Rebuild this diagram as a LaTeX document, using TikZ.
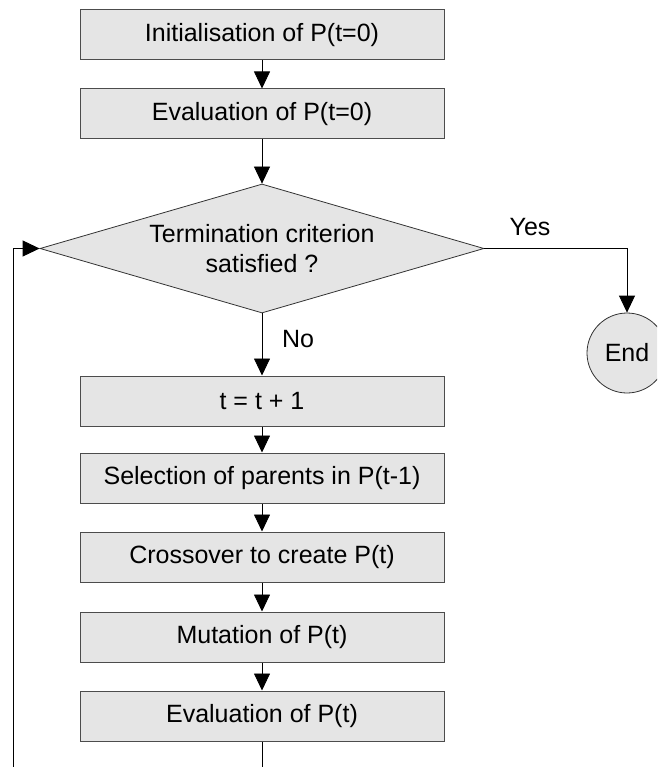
\documentclass[tikz,border=0pt]{standalone}
\usepackage{fontspec}
\setmainfont{Liberation Sans}
\usetikzlibrary{arrows.meta,shapes.geometric}
\tikzset{
  stepbox/.style={draw=black!70, line width=1pt, fill=black!10, rectangle,
    minimum width=364pt, minimum height=50pt, inner sep=0pt},
  decision/.style={draw=black!80, line width=0.8pt, fill=black!10, diamond,
    minimum width=444pt, minimum height=129pt, inner sep=0pt},
  stopnode/.style={draw=black!80, line width=0.8pt, fill=black!10, circle,
    minimum size=80pt, inner sep=0pt},
  txt/.style={inner sep=0pt, align=center},
  flow/.style={draw=black, line width=0.8pt,
    -{Triangle[length=17pt,width=16pt]}},
  plain/.style={draw=black, line width=0.8pt}
}
\begin{document}
\begin{tikzpicture}[x=1pt,y=-1pt,
  every node/.style={font=\fontsize{25}{30}\selectfont}]
  \clip (0,0) rectangle (657,767);
  \fill[white] (0,0) rectangle (657,767);

  % process steps
  \node[stepbox] (init) at (262,35) {Initialisation of P(t=0)};
  \node[stepbox] (eval0) at (262,114) {Evaluation of P(t=0)};
  \node[decision] (dia) at (262,248.5) {};
  \node[txt] (diatext) at (262,249) {Termination criterion\\satisfied ?};
  \node[stopnode] (end) at (627,353) {End};
  \node[stepbox] (inc) at (262,401) {t = t + 1};
  \node[stepbox] (sel) at (262,478) {Selection of parents in P(t-1)};
  \node[stepbox] (cross) at (262,557) {Crossover to create P(t)};
  \node[stepbox] (mut) at (262,637) {Mutation of P(t)};
  \node[stepbox] (evalt) at (262,716) {Evaluation of P(t)};

  % connectors
  \draw[flow] (init.south) -- (eval0.north);
  \draw[flow] (eval0.south) -- (dia.north);
  \draw[flow] (dia.east) -| (end.north);
  \draw[flow] (dia.south) -- (inc.north);
  \draw[flow] (inc.south) -- (sel.north);
  \draw[flow] (sel.south) -- (cross.north);
  \draw[flow] (cross.south) -- (mut.north);
  \draw[flow] (mut.south) -- (evalt.north);

  % loop back to the decision
  \coordinate (loopb) at (13,790);
  \draw[flow] (evalt.south) |- (loopb) |- (dia.west);

  % branch labels
  \node[txt] (yes) at (530,227) {Yes};
  \node[txt] (no) at (298,339) {No};
\end{tikzpicture}
\end{document}
